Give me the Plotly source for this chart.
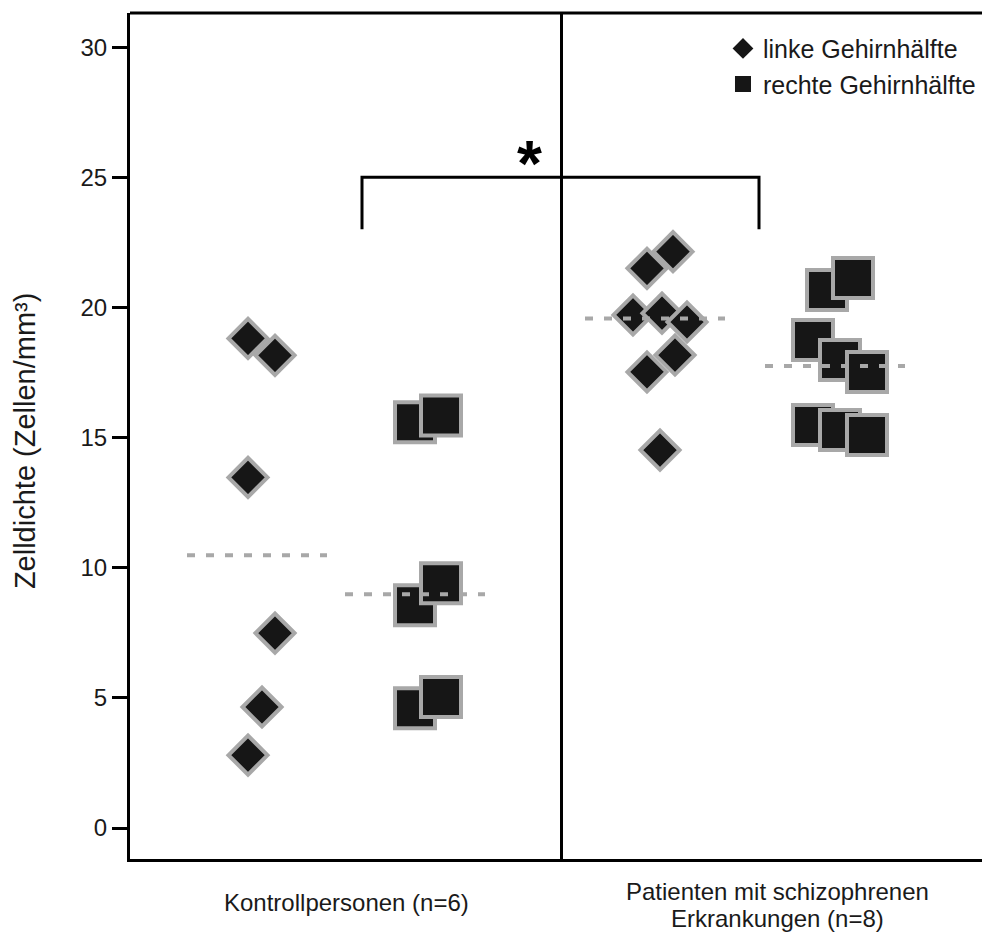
import numpy as np
import plotly.graph_objects as go

# ---- data -------------------------------------------------------------
groups = ["Kontrollpersonen (n=6)", "Patienten mit schizophrenen Erkrankungen (n=8)"]
group_lines = [["Kontrollpersonen (n=6)"],
               ["Patienten mit schizophrenen", "Erkrankungen (n=8)"]]
hemispheres = ["linke Gehirnhälfte", "rechte Gehirnhälfte"]

ctrl_left = [18.81, 18.16, 13.47, 7.49, 4.65, 2.80]
ctrl_right = [15.59, 15.85, 8.56, 9.40, 4.60, 5.03]
pat_left = [21.50, 22.14, 19.71, 19.78, 19.44, 18.17, 17.52, 14.52]
pat_right = [20.67, 21.13, 18.75, 17.98, 17.52, 15.48, 15.29, 15.10]

y_ticks = [0, 5, 10, 15, 20, 25, 30]
y_title = "Zelldichte (Zellen/mm³)"
signif_label = "*"
bracket_top = 25
bracket_tip = 23

# ---- layout constants (x axis runs in pixel-like units) ---------------
X_MAX = 852
group_center = [216, 647]
divider_x = (group_center[0] + group_center[1]) / 2
slot_center = {("ctrl", "L"): 127, ("ctrl", "R"): 285,
               ("pat", "L"): 525, ("pat", "R"): 705}
# horizontal spread of overlapping points inside each slot
spread = {("ctrl", "L"): [-9, 18, -9, 18, 5, -9],
          ("ctrl", "R"): [0, 26, 0, 26, 0, 26],
          ("pat", "L"): [-8, 18, -22, 7, 32, 20, -8, 5],
          ("pat", "R"): [-8, 18, -22, 5, 32, -22, 5, 32]}
median_half = 70
bracket_x = [232, 629]

FILL = "#161616"
EDGE = "#a8a8a8"
TXT = "#1a1a1a"
FONT = "Liberation Sans, Arial, sans-serif"

series = [("ctrl", "L", ctrl_left), ("ctrl", "R", ctrl_right),
          ("pat", "L", pat_left), ("pat", "R", pat_right)]

fig = go.Figure()

for grp, side, vals in series:
    key = (grp, side)
    xs = [slot_center[key] + d for d in spread[key]]
    is_left = side == "L"
    fig.add_trace(go.Scatter(
        x=xs, y=vals, mode="markers", showlegend=False, hoverinfo="y",
        marker=dict(symbol="diamond" if is_left else "square",
                    size=30 if is_left else 40, color=FILL,
                    line=dict(color=EDGE, width=4)),
    ))

# dotted median lines drawn above the points
for grp, side, vals in series:
    c = slot_center[(grp, side)]
    m = float(np.median(vals))
    fig.add_trace(go.Scatter(
        x=[c - median_half, c + median_half], y=[m, m], mode="lines",
        showlegend=False, hoverinfo="skip",
        line=dict(color=EDGE, width=4, dash="8px,11px"),
    ))

# legend entries
for name, sym in zip(hemispheres, ["diamond", "square"]):
    fig.add_trace(go.Scatter(
        x=[None], y=[None], mode="markers", name=name, legendgroup=name,
        marker=dict(symbol=sym, size=16, color=FILL, line=dict(width=0)),
    ))

shapes = [
    # group divider
    dict(type="line", xref="x", yref="paper", x0=divider_x, x1=divider_x,
         y0=0, y1=1, line=dict(color="black", width=3)),
    # top frame
    dict(type="line", xref="paper", yref="paper", x0=0, x1=1, y0=1, y1=1,
         line=dict(color="black", width=3)),
    # significance bracket
    dict(type="path", xref="x", yref="y",
         path=(f"M {bracket_x[0]},{bracket_tip} L {bracket_x[0]},{bracket_top} "
               f"L {bracket_x[1]},{bracket_top} L {bracket_x[1]},{bracket_tip}"),
         line=dict(color="black", width=3)),
]

annotations = [
    dict(text=signif_label, xref="x", yref="y", x=399, y=25.5,
         showarrow=False, xanchor="center", yanchor="middle",
         font=dict(family="Liberation Sans, Arial", size=64, color="black",
                   weight="bold")),
    dict(text=y_title, xref="paper", yref="paper", x=-0.1232, y=0.494,
         textangle=-90, showarrow=False, xanchor="center", yanchor="middle",
         font=dict(family=FONT, size=29, color=TXT)),
]

# category labels under the axis
label_rows = {1: [-0.052], 2: [-0.0385, -0.0705]}
for gx, lines in zip(group_center, group_lines):
    for txt, yy in zip(lines, label_rows[len(lines)]):
        annotations.append(dict(
            text=txt, xref="x", yref="paper", x=gx, y=yy, showarrow=False,
            xanchor="center", yanchor="middle",
            font=dict(family=FONT, size=24, color=TXT)))

fig.update_layout(
    width=982, height=947,
    margin=dict(l=130, r=0, t=13, b=88),
    paper_bgcolor="white", plot_bgcolor="white",
    font=dict(family=FONT, color=TXT),
    xaxis=dict(range=[0, X_MAX], showline=True, linecolor="black", linewidth=3,
               showticklabels=False, ticks="", showgrid=False, zeroline=False),
    yaxis=dict(range=[-1.19, 31.31], tickvals=y_ticks, ticks="outside",
               ticklen=15, tickwidth=3, tickcolor="black", showline=True,
               linecolor="black", linewidth=3, showgrid=False, zeroline=False,
               tickfont=dict(size=24, color=TXT)),
    legend=dict(x=0.696, y=0.985, xanchor="left", yanchor="top",
                bgcolor="rgba(0,0,0,0)", font=dict(size=25, color=TXT),
                tracegroupgap=0, itemsizing="trace"),
    shapes=shapes, annotations=annotations,
)

fig.write_html("out.html")
